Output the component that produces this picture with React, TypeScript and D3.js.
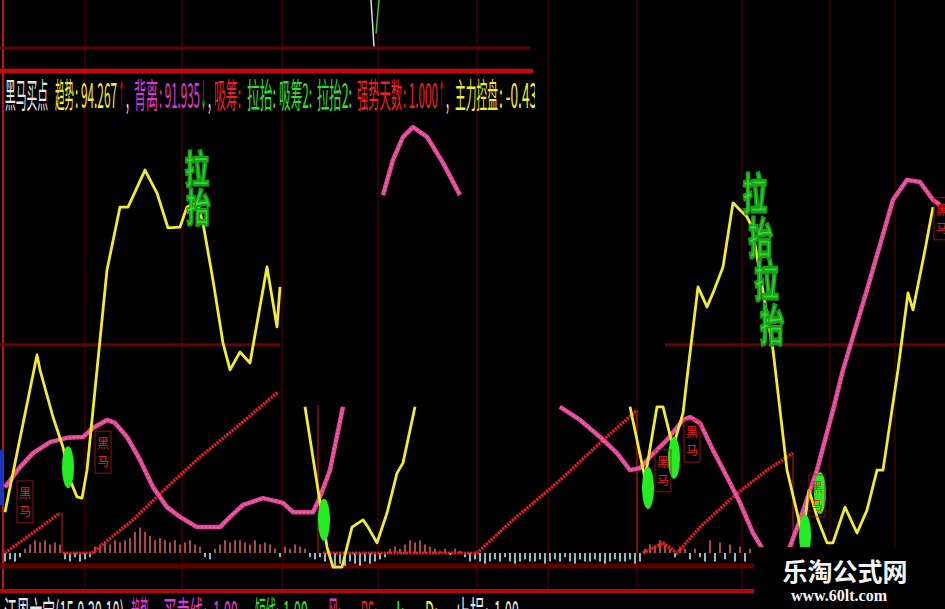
import React from 'react';
import * as d3 from 'd3';

type P = [number, number];

// ---- series data: [trading day, indicator value] ----
const yellowA: P[] = [[1, 9.6], [7.4, 46.6], [8, 43.1], [10.6, 32], [12.6, 24.9], [14, 17.2], [15.4, 13.2], [16.4, 12.9], [17.4, 19.5], [19.4, 43.1], [21.4, 66.6], [24, 81.4], [25.6, 81.4], [29, 90.1], [31.4, 84.7], [33.6, 76.5], [36, 76.7], [37.4, 81.4], [39.4, 82.4], [40.6, 77.6], [42.6, 64.2], [44.6, 49.4], [46, 43.1], [48, 47.3], [50, 44.7], [53.4, 67.3], [55.4, 53.2], [56, 62.6]];
const yellowB: P[] = [[61, 34.4], [65.4, 1.4], [66.6, -3.3], [68.4, -3.3], [70.4, 6.1], [72.6, 7.8], [73.6, 6.1], [75.4, 2.4], [77.4, 9.4], [79.4, 18.8], [80.6, 21.2], [83, 34.4]];
const yellowC: P[] = [[126, 34.4], [129, 17.6], [131.4, 34.4], [132.6, 34.4], [134.6, 24.9], [136.6, 32.9], [137.6, 43.1], [139.6, 62.6], [141.4, 57.9], [142.6, 61.2], [144.6, 67.3], [146.6, 82.4], [148, 80.7], [149.4, 79.1], [150.4, 76.7], [154.6, 47.8], [157.4, 19.5], [160, 6.6], [160.6, 4.2], [161.8, 14.8], [163.6, 7.8], [165.4, 2.4], [166.6, 2.4], [169, 10.8], [171.4, 4.7], [173.4, 10.1], [175.4, 19.5], [176.6, 19.5], [178.6, 35.3], [179.6, 43.1], [181.6, 61.2], [182.6, 57.2], [185, 71.3], [186.6, 81.4]];

const pinkA: P[] = [[1, 15.5], [4, 20.2], [6.6, 23.5], [10, 26.1], [13.4, 27.1], [16.6, 27.3], [18.6, 29.4], [21.4, 31.3], [23, 30.6], [25.4, 27.3], [28, 21.9], [30.6, 15.5], [33.4, 10.8], [36, 8.5], [39.4, 6.1], [44, 6.1], [46, 8.5], [48.6, 11.3], [52.6, 12.9], [56.6, 11.8], [58.6, 9.6], [62.6, 9.6], [64, 13.2], [66, 19.5], [68.6, 34.4]];
const pinkB: P[] = [[76.6, 84.2], [78.6, 92.5], [80.6, 97.9], [82.6, 100.2], [85.4, 97.9], [88.6, 91.8], [92, 84.2]];
const pinkC: P[] = [[112, 34.4], [116, 31.3], [120, 27.3], [123.4, 23.5], [126, 19.5], [128, 20], [130, 22.6], [133.4, 26.6], [136.6, 31.3], [138, 32], [140, 30.6], [142.6, 24.2], [145.4, 17.9], [148, 11.8], [150.6, 4.7], [153, 0], [157, -1.6], [160, 7.8], [163.4, 19.5], [166.6, 33.6], [168.6, 43.1], [173.4, 61.9], [178.6, 83.1], [181.4, 87.8], [184, 87.3], [186.6, 83.1], [188, 81.9]];

const redSegs: P[][] = [
  [[1, 0], [12, 9.4]],
  [[12.6, 0], [18.4, 0], [26.6, 7.8], [33.4, 15.5], [40, 22.6], [46.6, 28.9], [55.6, 37.9]],
  [[64.6, 0], [95.4, 0], [102.6, 7.8], [111.4, 16.5], [120, 25.9], [127.4, 33.6]],
  [[128.6, 0], [132.6, 2.4], [135.4, 0], [140, 6.1], [146.6, 13.2], [153.4, 19.5], [158.6, 23.5]],
];
const redDrops: P[] = [[12.4, 9.4], [63.6, 34.8], [127.4, 33.6], [158.6, 23.5]];

// histogram, one value per day starting at day 1
const barVals: number[] = [
  -2, -1.5, -2, -1, 1,
  2, 3, 2.5, 3, 2, 2.5, 2,
  -1.5, -2, -1, -2, -1.5, -1,
  1.5, 2, 2.5, 2, 3, 2.5, 3, 3.5,
  5, 6, 5,
  4, 3, 3.5, 3, 2.5, 3, 2, 2.5, 3, 2, 1.5,
  -1, -1.5, 1,
  2, 3, 2.5, 3, 3, 2.5, 2, 3, 2, 2.5, 2,
  1, -1, 1.5, 1, 2, 1.5, 1,
  -1, -1.5, -1, -2, -1.5,
  -3, -2.5, -3, -2, -2.5, -3, -2, -2.5, -2, -1.5, -1,
  1, 1.5, 1, 2,
  3, 2.5, 3, 2, 1.5,
  1, 0.5, 1, -0.5, 1, 0.5, -1,
  -2, -1.5, -2, -2.5, -2, -1.5, -2, -1, -2, -2.5, -2, -1.5, -2, -2, -1.5, -2.5, -2, -1.5, -2, -1, -2, -2.5, -1.5, -2, -2, -1.5, -2, -2.5, -2, -1.5, -2,
  -2, -1.5, -2.5, -2,
  1, 2, 1.5, 3, 2, 1, -1, 1.5, 1, -1.5, 1, -1,
  -2, 3, -2, 2.5, -1.5, 2, -2, 1.5, -2, 1,
];

const buyPoints: P[] = [[13.6, 20.2], [64.8, 7.8], [129.6, 15.3], [134.8, 22.4], [161, 4.2], [164, 14.1]];
const heimaLabels: P[] = [[5, 16.5], [20.6, 28.2], [132.6, 23.8], [138.4, 30.8], [163.4, 17.9], [188.4, 83.1]];
const lataStart: P[] = [[39.2, 95.1], [150.4, 90.1]];
const lataEnd: P[] = [[39.8, 77.2], [155, 48.9]];
const lataCount: number[] = [2, 4];

const gridDays: number[] = [17, 36.4, 56.4, 75.6, 95.4, 109.6, 127.4, 148.4, 166, 179];
const levelVals: number[] = [49];
const levelRanges: P[] = [[0, 56], [133, 189]];

const topWhite: P[] = [[74.2, 10], [74.8, 0.3]];
const topGreen: P[] = [[75.8, 10], [75.2, 3]];

const headerItems: [string, string, number, number][] = [
  ['黑马买点', '#e6e6e6', 5, 43],
  ['趋势', '#f0ec30', 55, 19],
  [': 94.267', '#f0ec30', 75, 42],
  ['↑', '#f02020', 119, 5],
  [',', '#e6e6e6', 126, 3],
  ['背离', '#e038d8', 134, 24],
  [': 91.935', '#e038d8', 159, 41],
  ['↓', '#30e030', 201, 5],
  [',', '#e6e6e6', 208, 3],
  ['吸筹:', '#f02020', 214, 27],
  ['拉抬:', '#30e030', 247, 29],
  ['吸筹2:', '#30e030', 279, 33],
  ['拉抬2:', '#30e030', 317, 35],
  ['强势天数', '#f02020', 357, 45],
  [': 1.000', '#f02020', 403, 35],
  ['↑', '#f02020', 439, 5],
  [',', '#e6e6e6', 446, 3],
  ['主力控盘', '#f0ec30', 455, 43],
  [': -0.43', '#f0ec30', 499, 38],
];

const footerItems: [string, string, number, number][] = [
  ['江恩六宝(15,0,30,10)', '#e6e6e6', 4, 120],
  ['趋势', '#e038d8', 131, 18],
  ['买卖线:', '#e038d8', 163, 44],
  ['1.00', '#e038d8', 213, 25],
  ['短线:', '#30e030', 255, 24],
  ['1.00', '#30e030', 283, 25],
  ['风:', '#e038d8', 328, 13],
  ['RS:', '#f02020', 361, 16],
  ['J:', '#30e030', 392, 13],
  ['D:', '#f0ec30', 425, 13],
  ['止损:', '#e6e6e6', 455, 34],
  ['1.00', '#e6e6e6', 494, 25],
];

const W = 945;
const H = 609;

export default function App() {
  const x = d3.scaleLinear().domain([0, 189]).range([0, 945]);
  const y = d3.scaleLinear().domain([0, 100]).range([553, 128]);
  const yTop = d3.scaleLinear().domain([0, 10]).range([48, 0]);
  const line = d3.line<P>().x((d) => x(d[0])).y((d) => y(d[1]));
  const lineTop = d3.line<P>().x((d) => x(d[0])).y((d) => yTop(d[1]));

  const cjk = '"Noto Sans CJK SC", "Noto Sans", sans-serif';

  const renderRow = (items: [string, string, number, number][], base: number, key: string) => (
    <g transform={`translate(0,${base}) scale(1,2.4)`} key={key}>
      <text y={0} fontSize={14} fontFamily={cjk}>
        {items.map(([t, c, px, w], i) => (
          <tspan key={i} x={px} fill={c} textLength={w} lengthAdjust="spacingAndGlyphs">{t}</tspan>
        ))}
      </text>
    </g>
  );

  return (
    <svg width={W} height={H} style={{ position: 'fixed', left: 0, top: 0, display: 'block', background: '#000' }}>
      <defs>
        <clipPath id="hdr"><rect x={0} y={73} width={535} height={50} /></clipPath>
      </defs>
      <rect x={0} y={0} width={W} height={H} fill="#000" />

      {/* vertical grid */}
      {gridDays.map((g, i) => (
        <line key={i} x1={x(g)} x2={x(g)} y1={0} y2={590} stroke="#3a0202" strokeWidth={1.6} />
      ))}
      <line x1={3} x2={3} y1={0} y2={592} stroke="#c01010" strokeWidth={2} />
      <rect x={0} y={450} width={3} height={55} fill="#2030c0" />

      {/* panel separators */}
      <line x1={0} x2={530} y1={48} y2={48} stroke="#640000" strokeWidth={3} />
      <line x1={0} x2={533} y1={71} y2={71} stroke="#c80808" strokeWidth={4.5} />
      {levelVals.map((lv, i) => levelRanges.map((r, j) => (
        <line key={`${i}-${j}`} x1={x(r[0])} x2={x(r[1])} y1={y(lv)} y2={y(lv)} stroke="#6a0000" strokeWidth={3} />
      )))}
      <line x1={0} x2={W} y1={566} y2={566} stroke="#5a0000" strokeWidth={5} />
      <line x1={0} x2={W} y1={591} y2={591} stroke="#b00808" strokeWidth={4} />

      {/* top trace */}
      <path d={lineTop(topWhite) || ''} stroke="#e0e0e0" strokeWidth={1.5} fill="none" />
      <path d={lineTop(topGreen) || ''} stroke="#40c040" strokeWidth={1.5} fill="none" />

      {/* histogram */}
      {barVals.map((v, i) => {
        const t = i + 1;
        const y0 = y(0);
        const y1 = y(v);
        return (
          <rect key={i} x={x(t) - 0.9} width={1.8} y={Math.min(y0, y1)} height={Math.abs(y1 - y0)}
            fill={v > 0 ? '#c05050' : '#9ad2da'} />
        );
      })}

      {/* red stepped line */}
      {redDrops.map((d, i) => (
        <line key={i} x1={x(d[0])} x2={x(d[0])} y1={y(d[1])} y2={y(0)} stroke="#d01818" strokeWidth={1} />
      ))}
      {redSegs.map((s, i) => (
        <path key={i} d={line(s) || ''} stroke="#ee1c1c" strokeWidth={3.2} strokeDasharray="2.2 1" fill="none" />
      ))}

      {/* pink */}
      {[pinkA, pinkB, pinkC].map((s, i) => (
        <g key={i}>
          <path d={line(s) || ''} stroke="#e4469a" strokeWidth={4.5} fill="none" strokeLinejoin="round" />
          <path d={line(s) || ''} stroke="#f070b8" strokeWidth={1.6} strokeDasharray="1.5 2.5" fill="none" />
        </g>
      ))}

      {/* yellow */}
      {[yellowA, yellowB, yellowC].map((s, i) => (
        <path key={i} d={line(s) || ''} stroke="#f2ec2e" strokeWidth={2.8} fill="none" strokeLinejoin="round" />
      ))}

      {/* buy points */}
      {buyPoints.map((p, i) => (
        <ellipse key={i} cx={x(p[0])} cy={y(p[1])} rx={6} ry={21} fill="#22ee22" />
      ))}

      {/* 黑马 labels */}
      {heimaLabels.map((p, i) => {
        const cx = x(p[0]);
        const ty = y(p[1]);
        return (
          <g key={i}>
            <rect x={cx - 8} y={ty - 2} width={16} height={42} fill="none" stroke="#b01818" strokeWidth={0.8} />
            <text x={cx} y={ty} fill="#ee2020" fontSize={12} fontFamily={cjk} textAnchor="middle">
              <tspan x={cx} dy={15}>黑</tspan>
              <tspan x={cx} dy={18}>马</tspan>
            </text>
          </g>
        );
      })}

      {/* 拉抬 labels */}
      {lataStart.map((s, i) => {
        const e = lataEnd[i];
        const n = lataCount[i];
        const x0 = x(s[0]), y0 = y(s[1]), x1 = x(e[0]), y1 = y(e[1]);
        const step = (y1 - y0) / n;
        const chars = Array.from({ length: n }, (_, k) => (k % 2 === 0 ? '拉' : '抬'));
        const sy = step / 22;
        return (
          <g key={i}>
            {chars.map((ch, k) => {
              const cx = x0 + ((x1 - x0) * (k + 0.5)) / n;
              const by = y0 + step * (k + 1) - 4;
              return (
                <g key={k} transform={`translate(${cx},${by}) scale(1.1,${sy})`}>
                  <text x={0} y={0} fill="#2ee02e" stroke="#18a018" strokeWidth={1.4}
                    fontSize={22} fontWeight="bold" fontFamily={cjk} textAnchor="middle">{ch}</text>
                </g>
              );
            })}
          </g>
        );
      })}

      {/* header row */}
      <g clipPath="url(#hdr)">{renderRow(headerItems, 108, 'h')}</g>
      {/* footer row (cut by window) */}
      {renderRow(footerItems, 626, 'f')}

      {/* watermark */}
      <rect x={754} y={547} width={191} height={62} fill="#000" />
      <text x={845} y={581} fill="#f4f4f4" fontSize={25} fontWeight="bold" fontFamily={cjk} textAnchor="middle">乐淘公式网</text>
      <text x={839} y={601} fill="#f4f4f4" fontSize={16} fontWeight="bold" fontFamily='"Liberation Serif", "DejaVu Serif", serif' textAnchor="middle">www.60lt.com</text>
    </svg>
  );
}
